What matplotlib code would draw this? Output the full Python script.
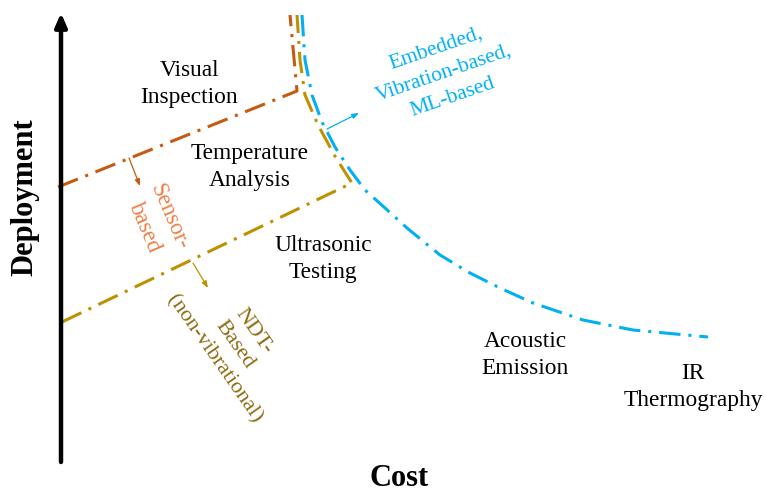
import matplotlib
matplotlib.use("Agg")
import matplotlib.pyplot as plt

plt.rcParams['font.family'] = ['Liberation Serif', 'DejaVu Serif']

# ---- data (pixel-space coordinates of the conceptual diagram) ----
orange_x = [58, 297, 290]
orange_y = [187, 91, 15]

gold_x = [62, 352, 336, 318, 305, 300, 297]
gold_y = [322, 183, 158, 125, 95, 60, 15]

blue_x = [302, 305, 312, 322, 335, 350, 365, 385, 407, 440, 470, 500, 533, 583, 633, 708]
blue_y = [15, 60, 95, 122, 147, 170, 190, 208, 228, 255, 273, 288, 303, 320, 330, 337]

region_labels = ["Visual\nInspection", "Temperature\nAnalysis", "Ultrasonic\nTesting",
                 "Acoustic\nEmission", "IR\nThermography"]
region_pos = [(189, 84), (250, 167), (323, 259), (525, 355), (693, 387)]

group_labels = ["Sensor-\nbased", "NDT-\nBased\n(non-vibrational)",
                "Embedded,\nVibration-based,\nML-based"]
group_pos = [(157, 222), (234, 345), (444, 73)]
group_rot = [-67, -55, 19]
group_fs = [16.6, 16.0, 15.5]
group_ls = [1.36, 1.36, 1.45]

ORANGE = "#C55A11"
GOLD = "#BF9000"
BLUE = "#00B0F0"
group_colors = ["#F07F45", "#8C6A10", BLUE]
FS = 16.8

fig = plt.figure(figsize=(7.66, 4.91), dpi=100)
ax = fig.add_axes([0, 0, 1, 1])
ax.set_xlim(0, 766)
ax.set_ylim(491, 0)
ax.axis('off')

# axes with arrows
ax.annotate("", xy=(61, 13), xytext=(61, 462),
            arrowprops=dict(arrowstyle="-|>,head_width=0.35,head_length=0.8",
                            lw=3.2, color="black", shrinkA=0, shrinkB=0))
ax.annotate("", xy=(771, 460), xytext=(59, 460),
            arrowprops=dict(arrowstyle="-|>,head_width=0.35,head_length=0.8",
                            lw=3.2, color="black", shrinkA=0, shrinkB=0))

ls = (0, (7, 2.6, 1, 2.6))
ax.plot(orange_x, orange_y, color=ORANGE, lw=2.2, linestyle=ls)
ax.plot(gold_x, gold_y, color=GOLD, lw=2.2, linestyle=ls)
ax.plot(blue_x, blue_y, color=BLUE, lw=2.2, linestyle=ls)

for lab, (x, y) in zip(region_labels, region_pos):
    ax.text(x, y, lab, ha='center', va='center', fontsize=FS, color='black',
            linespacing=1.32)

# small pointer arrows
def small_arrow(p0, p1, c):
    ax.annotate("", xy=p1, xytext=p0,
                arrowprops=dict(arrowstyle="-|>,head_width=0.15,head_length=0.4",
                                lw=0.9, color=c, shrinkA=0, shrinkB=0))

small_arrow((129, 158), (140, 186), ORANGE)
small_arrow((193, 263), (208, 288), GOLD)
small_arrow((327, 129), (359, 113), BLUE)

for lab, (x, y), r, c, fs, lsp in zip(group_labels, group_pos, group_rot,
                                       group_colors, group_fs, group_ls):
    ax.text(x, y, lab, ha='center', va='center', fontsize=fs, color=c,
            rotation=r, rotation_mode='anchor', linespacing=lsp)

ax.text(25, 197, "Deployment", ha='center', va='center', fontsize=22,
        fontweight='bold', rotation=90)
ax.text(399, 478, "Cost", ha='center', va='center', fontsize=22, fontweight='bold')

fig.savefig("out.png", dpi=100)
